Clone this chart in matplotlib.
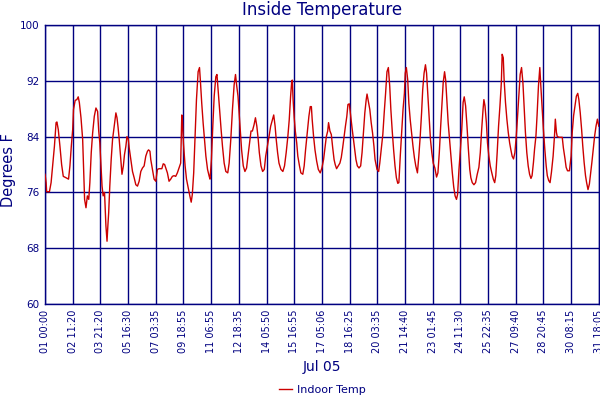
import matplotlib
matplotlib.use('Agg')
import matplotlib.pyplot as plt

navy = '#000080'
red = '#cc0000'

# timestamps shown under each gridline (axis runs by sample index, not time)
tick_labels = ['01 00:00', '02 11:20', '03 21:20', '05 16:30', '07 03:35',
               '09 18:55', '11 06:55', '12 18:35', '14 05:50', '15 16:55',
               '17 05:06', '18 16:25', '20 03:35', '21 14:40', '23 01:45',
               '24 11:30', '25 22:35', '27 09:40', '28 20:45', '30 08:15',
               '31 18:05']
yticks = [60, 68, 76, 84, 92, 100]

# position along the axis (in tick intervals) and indoor temperature (F)
pos = [0.0, 0.04, 0.06, 0.16, 0.22, 0.28, 0.34, 0.40, 0.43, 0.48, 0.54, 0.60,
       0.66, 0.76, 0.85, 0.90, 0.95, 1.00, 1.03, 1.09, 1.15, 1.20, 1.24, 1.30,
       1.36, 1.39, 1.43, 1.48, 1.53, 1.58, 1.62, 1.67, 1.72, 1.78, 1.84, 1.90,
       1.94, 1.98, 2.03, 2.06, 2.10, 2.15, 2.20, 2.24, 2.27, 2.30, 2.34, 2.39,
       2.44, 2.50, 2.56, 2.60, 2.64, 2.68, 2.74, 2.78, 2.83, 2.87, 2.92, 2.96,
       3.01, 3.04, 3.10, 3.16, 3.22, 3.28, 3.34, 3.40, 3.46, 3.52, 3.58, 3.64,
       3.70, 3.74, 3.79, 3.82, 3.88, 3.94, 4.00, 4.06, 4.12, 4.22, 4.27, 4.32,
       4.36, 4.42, 4.48, 4.54, 4.60, 4.66, 4.72, 4.78, 4.84, 4.90, 4.94, 4.96,
       5.00, 5.06, 5.11, 5.17, 5.23, 5.28, 5.32, 5.37, 5.42, 5.47, 5.53, 5.58,
       5.61, 5.66, 5.71, 5.76, 5.81, 5.87, 5.93, 5.96, 6.01, 6.06, 6.11, 6.17,
       6.21, 6.26, 6.31, 6.36, 6.41, 6.47, 6.53, 6.60, 6.65, 6.71, 6.77, 6.83,
       6.88, 6.92, 6.97, 7.01, 7.06, 7.10, 7.16, 7.22, 7.28, 7.33, 7.39, 7.44,
       7.49, 7.55, 7.60, 7.65, 7.70, 7.74, 7.80, 7.86, 7.92, 7.97, 8.03, 8.09,
       8.15, 8.21, 8.26, 8.31, 8.35, 8.40, 8.45, 8.52, 8.59, 8.65, 8.71, 8.77,
       8.82, 8.87, 8.91, 8.93, 8.96, 9.00, 9.04, 9.09, 9.13, 9.19, 9.24, 9.31,
       9.36, 9.41, 9.47, 9.53, 9.58, 9.62, 9.65, 9.70, 9.75, 9.81, 9.87, 9.94,
       10.00, 10.06, 10.11, 10.16, 10.21, 10.24, 10.29, 10.34, 10.39, 10.44,
       10.48, 10.53, 10.59, 10.65, 10.70, 10.75, 10.80, 10.85, 10.90, 10.94,
       10.99, 11.04, 11.09, 11.14, 11.19, 11.23, 11.28, 11.34, 11.40, 11.45,
       11.50, 11.55, 11.60, 11.63, 11.68, 11.73, 11.78, 11.83, 11.88, 11.92,
       11.99, 12.05, 12.09, 12.14, 12.20, 12.25, 12.30, 12.35, 12.40, 12.45,
       12.49, 12.54, 12.59, 12.64, 12.69, 12.74, 12.78, 12.83, 12.88, 12.93,
       12.98, 13.01, 13.05, 13.10, 13.14, 13.19, 13.24, 13.29, 13.34, 13.39,
       13.45, 13.50, 13.55, 13.60, 13.64, 13.69, 13.74, 13.78, 13.83, 13.88,
       13.92, 13.97, 14.02, 14.08, 14.14, 14.19, 14.24, 14.29, 14.34, 14.38,
       14.43, 14.47, 14.52, 14.56, 14.61, 14.66, 14.71, 14.76, 14.81, 14.86,
       14.90, 14.95, 15.00, 15.05, 15.10, 15.14, 15.19, 15.24, 15.29, 15.34,
       15.38, 15.43, 15.49, 15.55, 15.61, 15.67, 15.72, 15.77, 15.82, 15.85,
       15.89, 15.94, 15.98, 16.03, 16.08, 16.13, 16.19, 16.24, 16.28, 16.33,
       16.38, 16.43, 16.48, 16.51, 16.55, 16.58, 16.63, 16.68, 16.73, 16.78,
       16.82, 16.87, 16.92, 16.97, 17.02, 17.06, 17.11, 17.16, 17.21, 17.26,
       17.30, 17.35, 17.40, 17.45, 17.50, 17.55, 17.59, 17.64, 17.68, 17.73,
       17.77, 17.82, 17.87, 17.90, 17.95, 18.00, 18.05, 18.10, 18.14, 18.19,
       18.24, 18.29, 18.35, 18.40, 18.43, 18.47, 18.50, 18.58, 18.68, 18.72,
       18.78, 18.82, 18.87, 18.94, 19.00, 19.04, 19.09, 19.14, 19.19, 19.24,
       19.28, 19.33, 19.38, 19.42, 19.47, 19.52, 19.56, 19.61, 19.66, 19.71,
       19.75, 19.80, 19.85, 19.90, 19.95, 20.00]

temp = [78.6, 77.4, 76.1, 76.1, 77.4, 80.0, 82.6, 86.0, 86.1, 85.0, 82.6, 80.0,
        78.3, 78.1, 77.9, 79.8, 82.6, 85.0, 87.9, 89.2, 89.3, 89.7, 88.9, 86.7,
        83.6, 79.8, 75.0, 73.8, 75.5, 75.0, 77.4, 81.7, 84.5, 86.9, 88.1, 87.6,
        84.8, 83.1, 79.3, 76.9, 75.5, 76.0, 71.2, 69.0, 71.2, 73.1, 76.9, 80.7,
        83.6, 85.5, 87.4, 86.7, 85.3, 83.6, 80.7, 78.6, 79.8, 81.4, 82.6, 84.0,
        83.6, 82.4, 80.7, 79.0, 78.1, 77.1, 76.9, 77.6, 79.0, 79.5, 79.8, 81.2,
        81.9, 82.1, 81.9, 80.7, 79.3, 77.9, 77.6, 79.3, 79.4, 79.4, 80.1, 80.0,
        79.5, 78.8, 77.6, 77.9, 78.3, 78.4, 78.3, 78.8, 79.5, 80.2, 87.1, 86.4,
        83.0, 79.8, 77.9, 76.7, 75.5, 74.6, 75.7, 78.8, 84.0, 89.3, 93.3, 93.9,
        92.1, 88.8, 86.0, 83.6, 81.2, 79.3, 78.3, 77.9, 80.7, 85.5, 89.8, 92.6,
        92.9, 90.2, 87.4, 85.0, 82.6, 80.2, 79.0, 78.8, 80.2, 83.6, 87.9, 91.4,
        92.9, 91.4, 89.8, 87.4, 84.5, 82.1, 79.8, 79.0, 79.5, 81.2, 83.1, 84.8,
        84.8, 85.7, 86.7, 85.5, 83.6, 81.7, 79.8, 79.0, 79.3, 81.2, 82.6, 84.0,
        85.5, 86.4, 87.1, 85.5, 83.6, 81.7, 80.2, 79.3, 79.0, 79.8, 81.7, 84.0,
        86.4, 89.8, 91.9, 92.1, 89.3, 86.7, 84.8, 83.1, 81.2, 79.8, 78.8, 78.6,
        79.8, 82.1, 84.5, 86.9, 88.3, 88.3, 86.4, 84.0, 82.1, 80.5, 79.3, 78.8,
        79.5, 80.7, 82.4, 84.0, 84.8, 86.0, 84.8, 84.3, 82.4, 80.7,
        80.0, 79.4, 79.8, 80.2, 81.0, 82.4, 84.0, 85.5, 86.9, 88.6,
        88.7, 86.9, 85.2, 83.6, 82.1, 80.7, 79.8, 79.5, 79.8, 81.7,
        84.5, 87.4, 89.3, 90.1, 89.0, 87.9, 86.0, 84.5, 82.6, 80.7,
        79.3, 79.0, 80.2, 82.1, 84.3, 87.4, 90.2, 93.3, 93.9, 91.2,
        87.9, 84.8, 82.1, 79.8, 78.1, 77.3, 77.4, 81.2, 84.5, 87.9,
        90.2, 93.1, 93.9, 92.1, 88.8, 86.4, 84.5, 82.6, 81.0, 79.8,
        78.8, 81.2, 84.0, 87.4, 90.7, 93.1, 94.3, 93.1, 89.8, 86.4,
        83.6, 81.7, 80.2, 79.5, 78.2, 78.8, 81.7, 85.5, 88.8, 91.7,
        93.3, 92.1, 88.8, 86.0, 83.6, 81.2, 78.8, 76.8, 75.5, 75.0,
        75.7, 79.3, 82.0, 85.0, 88.9, 89.7, 88.4, 85.5, 82.2, 79.3,
        78.1, 77.4, 77.1, 77.4, 78.6, 79.6, 81.7, 85.0, 87.9, 89.3,
        88.4, 86.0, 83.1, 81.2, 79.8, 78.9, 77.9, 77.4, 78.4, 81.7,
        85.5, 88.4, 91.7, 95.8, 95.3, 92.2, 88.9, 86.5, 84.6, 83.1,
        82.2, 81.2, 80.8, 81.7, 84.1, 86.5, 89.8, 92.9, 93.9, 91.7,
        88.4, 84.6, 81.7, 79.8, 78.6, 78.0, 78.4, 80.3, 82.2, 84.1,
        87.0, 91.2, 93.9, 91.7, 88.4, 85.0, 82.2, 79.8, 78.4, 77.7,
        77.4, 78.9, 81.2, 84.1, 86.5, 84.6, 84.0, 83.9, 83.9, 82.4,
        80.8, 79.6, 79.1, 79.1, 81.2, 84.6, 87.0, 88.4, 89.8, 90.2,
        89.3, 87.4, 85.0, 82.7, 80.3, 78.4, 77.4, 76.4, 77.2, 78.9,
        80.3, 82.2, 84.1, 85.5, 86.5, 85.5]

fig = plt.figure(figsize=(6, 4), dpi=100)
ax = fig.add_axes([0.075, 0.24, 0.923, 0.6975])

ax.plot(pos, temp, color=red, lw=1, label='Indoor Temp', zorder=3)

ax.set_xlim(0, 20)
ax.set_ylim(60, 100)
ax.set_xticks(range(len(tick_labels)))
ax.set_xticklabels(tick_labels, rotation=90, fontsize=7, color=navy)
ax.set_yticks(yticks)
ax.set_yticklabels([str(v) for v in yticks], fontsize=7.5, color=navy)
ax.tick_params(length=0, pad=4)
ax.grid(True, color=navy, lw=1)
for s in ax.spines.values():
    s.set_color(navy)
    s.set_linewidth(1)

fig.text(0.537, 0.975, 'Inside Temperature', color=navy, fontsize=12,
         ha='center', va='center')
fig.text(0.537, 0.0825, 'Jul 05', color=navy, fontsize=10,
         ha='center', va='center')
fig.text(0.015, 0.575, 'Degrees F', color=navy, fontsize=10.5,
         rotation=90, ha='center', va='center')

leg = fig.legend(loc='center', bbox_to_anchor=(0.537, 0.025), frameon=False,
                 fontsize=8, handlelength=1.2, handletextpad=0.4)
for t in leg.get_texts():
    t.set_color(navy)

fig.savefig('out.png')
